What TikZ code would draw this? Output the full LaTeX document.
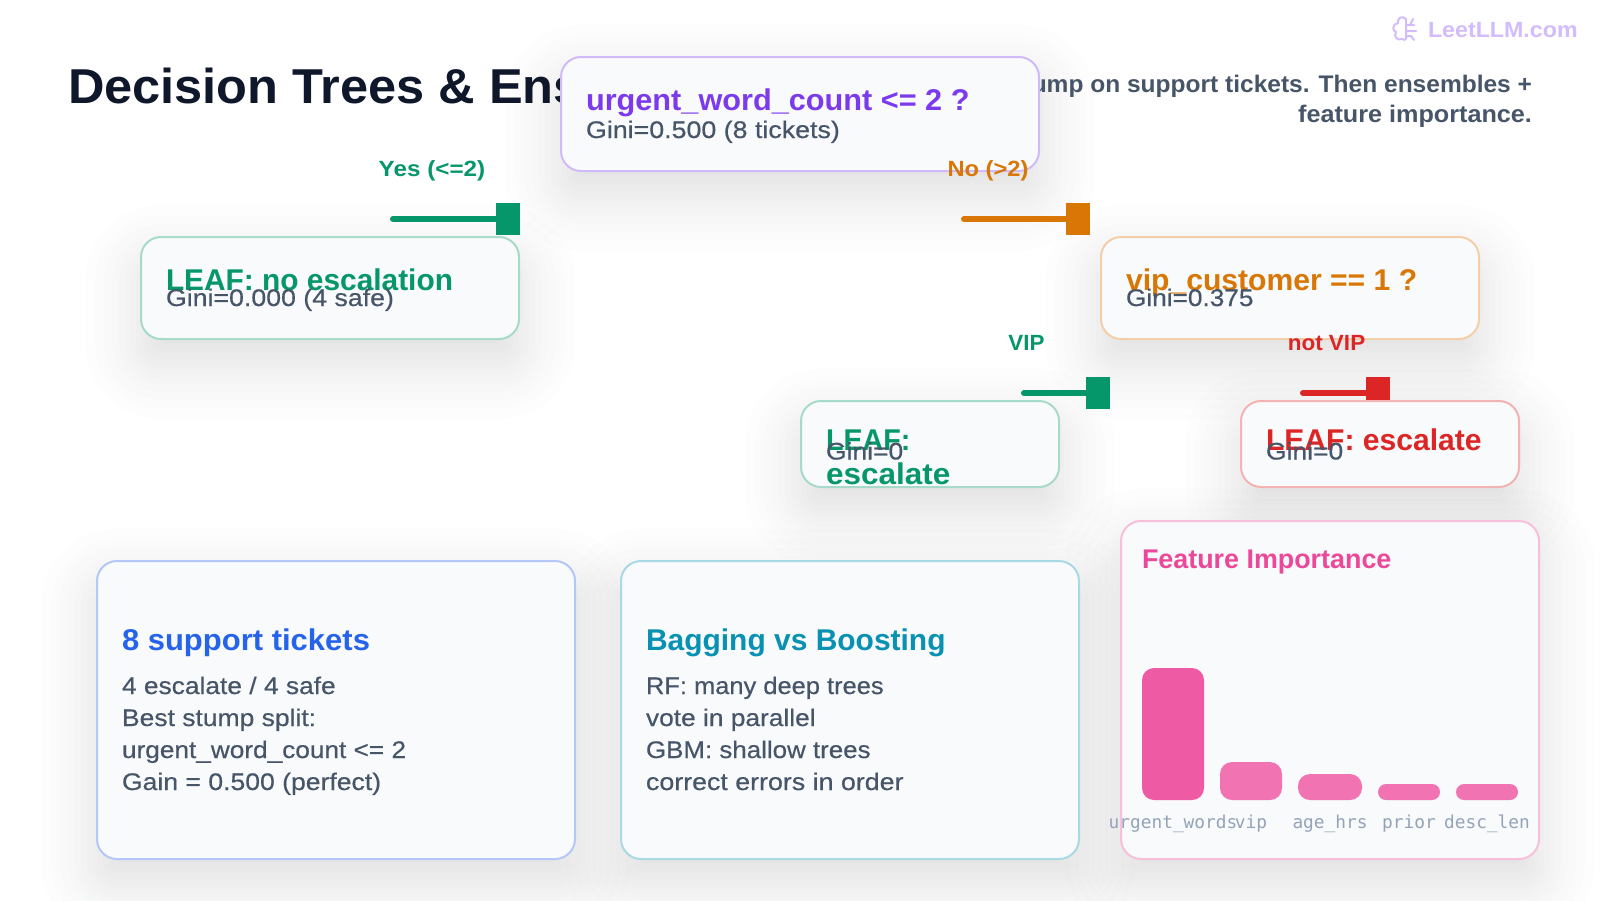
\documentclass[tikz,border=0pt]{standalone}
\usepackage{graphicx}
\usepackage{fontspec}
\usetikzlibrary{arrows.meta}
\setmainfont{Liberation Sans}
\newfontface\hb{Liberation Sans Bold}[FakeStretch=1.05]
\newfontface\hm{Liberation Sans}[FakeStretch=1.05,FakeBold=0.5]
\newfontface\mn{DejaVu Sans Mono}
\newcommand\sx[2]{\scalebox{#1}[1]{#2}}
\definecolor{cink}{HTML}{0F172A}
\definecolor{cslate}{HTML}{475569}
\definecolor{cgreen}{HTML}{059669}
\definecolor{corange}{HTML}{D97706}
\definecolor{cred}{HTML}{DC2626}
\definecolor{cblue}{HTML}{2563EB}
\definecolor{cteal}{HTML}{0891B2}
\definecolor{cpink}{HTML}{EC4899}
\definecolor{cpurple}{HTML}{7C3AED}
\definecolor{cfill}{HTML}{F8FAFC}
\definecolor{cmark}{HTML}{D3BCFC}
\definecolor{cbarA}{HTML}{EF5AA5}
\definecolor{cbarB}{HTML}{F273B1}
\definecolor{clabel}{HTML}{94A3B8}
\newcommand\softshadow[4]{%
  \foreach \dd in {-40,-32,-26,-20,-15,-10,-5,0,5,10,16,22,29,37,46,56}{%
    \pgfmathsetmacro\rr{max(4,20+\dd)}%
    \fill[cink,opacity=0.007,rounded corners=\rr pt]
      (#1-\dd,#2+24-\dd) rectangle (#3+\dd,#4+24+\dd);
  }%
}
\tikzset{
  x=1pt,y=-1pt,
  cardbox/.style={rounded corners=20pt,line width=2pt,fill=cfill,inner sep=0pt,outer sep=0pt},
  txt/.style={anchor=base west,inner sep=0pt,outer sep=0pt},
  rtxt/.style={anchor=base east,inner sep=0pt,outer sep=0pt},
  ctxt/.style={anchor=base,inner sep=0pt,outer sep=0pt},
  titlefont/.style={font=\hb\fontsize{30}{36}\selectfont},
  subfont/.style={font=\hm\fontsize{24}{30}\selectfont,text=cslate},
  bodyfont/.style={font=\hm\fontsize{24}{30}\selectfont,text=cslate},
  edgefont/.style={font=\hb\fontsize{22}{26}\selectfont},
  monofont/.style={font=\mn\fontsize{17.8}{22}\selectfont,text=clabel},
  stub/.style={line width=6pt,line cap=round,-{Square[length=24pt,width=32pt]}},
  bar/.style={inner sep=0pt,outer sep=0pt,anchor=south west,minimum width=62pt},
}
\begin{document}
\begin{tikzpicture}
\useasboundingbox (0,0) rectangle (1600,900);
\fill[white] (0,0) rectangle (1600,900);
% soft shadows
\softshadow{561}{57}{1039}{171}
\softshadow{141}{237}{519}{339}
\softshadow{1101}{237}{1479}{339}
\softshadow{801}{401}{1059}{487}
\softshadow{1241}{401}{1519}{487}
\softshadow{97}{561}{575}{859}
\softshadow{621}{561}{1079}{859}
\softshadow{1121}{521}{1539}{859}
% watermark
\draw[cmark,line width=2pt,line cap=round,line join=round]
  (1406,19) .. controls (1402,15) and (1397,18) .. (1398,23)
  .. controls (1392,24) and (1392,31) .. (1396,32)
  .. controls (1393,37) and (1398,41) .. (1402,39)
  .. controls (1405,41) and (1407,39) .. (1406,36)
  (1406,19) -- (1406,36)
  (1406,25) -- (1414,25) (1410,25) -- (1413,19)
  (1406,31) -- (1416,31)
  (1406,36) -- (1411,36) -- (1414,40);
\node[txt,font=\hb\fontsize{22}{26}\selectfont,text=cmark] (mark) at (1428,37) {\sx{1.005}{LeetLLM.com}};
% header
\node[txt,font=\hb\fontsize{49}{56}\selectfont,text=cink] (title) at (68,103) {\sx{0.982}{Decision Trees \& Ensembles}};
\node[rtxt,font=\hb\fontsize{24}{30}\selectfont,text=cslate] (subA) at (1532,92) {\sx{0.973}{stump on support tickets. Then ensembles +}};
\node[rtxt,font=\hb\fontsize{24}{30}\selectfont,text=cslate] (subB) at (1532,122) {feature importance.};
% connectors
\coordinate (yA) at (393,219); \coordinate (yB) at (520,219);
\coordinate (nA) at (964,219); \coordinate (nB) at (1090,219);
\coordinate (vA) at (1024,393); \coordinate (vB) at (1110,393);
\coordinate (wA) at (1303,393); \coordinate (wB) at (1390,393);
\draw[stub,cgreen] (yA) -- (yB);
\draw[stub,corange] (nA) -- (nB);
\draw[stub,cgreen] (vA) -- (vB);
\draw[stub,cred] (wA) -- (wB);
% tree nodes
\node[cardbox,draw=cpurple!35!white,minimum width=478pt,minimum height=114pt] (root) at (800,114) {};
\node[cardbox,draw=cgreen!35!white,minimum width=378pt,minimum height=102pt] (leafno) at (330,288) {};
\node[cardbox,draw=corange!35!white,minimum width=378pt,minimum height=102pt] (vipq) at (1290,288) {};
\node[cardbox,draw=cgreen!35!white,minimum width=258pt,minimum height=86pt] (leafvip) at (930,444) {};
\node[cardbox,draw=cred!35!white,minimum width=278pt,minimum height=86pt] (leafesc) at (1380,444) {};
% info cards
\node[cardbox,draw=cblue!35!white,minimum width=478pt,minimum height=298pt] (cardA) at (336,710) {};
\node[cardbox,draw=cteal!35!white,minimum width=458pt,minimum height=298pt] (cardB) at (850,710) {};
\node[cardbox,draw=cpink!35!white,minimum width=418pt,minimum height=338pt] (cardC) at (1330,690) {};
% tree node text
\node[txt,titlefont,text=cpurple] (rootT) at (586,110) {\sx{0.974}{urgent\_word\_count <= 2 ?}};
\node[txt,subfont] (rootS) at (586,138) {\sx{1.063}{Gini=0.500 (8 tickets)}};
\node[txt,titlefont,text=cgreen] (noT) at (166,290) {\sx{0.948}{LEAF: no escalation}};
\node[txt,subfont] (noS) at (166,306) {\sx{1.06}{Gini=0.000 (4 safe)}};
\node[txt,titlefont,text=corange] (vipT) at (1126,290) {\sx{0.956}{vip\_customer == 1 ?}};
\node[txt,subfont] (vipS) at (1126,306) {\sx{1.04}{Gini=0.375}};
\node[txt,titlefont,text=cgreen] (lvA) at (826,450) {\sx{0.91}{LEAF:}};
\node[txt,titlefont,text=cgreen] (lvB) at (826,484) {\sx{1.0}{escalate}};
\node[txt,subfont] (lvS) at (826,459.5) {\sx{1.05}{Gini=0}};
\node[txt,titlefont,text=cred] (leT) at (1266,450) {\sx{0.955}{LEAF: escalate}};
\node[txt,subfont] (leS) at (1266,459.5) {\sx{1.05}{Gini=0}};
% edge labels
\node[ctxt,edgefont,text=cgreen] (yL) at (432,176) {\sx{1.05}{Yes (<=2)}};
\node[ctxt,edgefont,text=corange] (nL) at (988,176) {\sx{1.026}{No (>2)}};
\node[ctxt,edgefont,text=cgreen] (vL) at (1026.5,350) {\sx{0.97}{VIP}};
\node[ctxt,edgefont,text=cred] (wL) at (1326.5,350) {\sx{0.974}{not VIP}};
% card A
\node[txt,titlefont,text=cblue] (aT) at (122,650) {\sx{0.984}{8 support tickets}};
\node[txt,bodyfont] (a1) at (122,694) {\sx{1.045}{4 escalate / 4 safe}};
\node[txt,bodyfont] (a2) at (122,726) {\sx{1.05}{Best stump split:}};
\node[txt,bodyfont] (a3) at (122,758) {\sx{1.04}{urgent\_word\_count <= 2}};
\node[txt,bodyfont] (a4) at (122,790) {\sx{1.054}{Gain = 0.500 (perfect)}};
% card B
\node[txt,titlefont,text=cteal] (bT) at (646,650) {\sx{0.951}{Bagging vs Boosting}};
\node[txt,bodyfont] (b1) at (646,694) {\sx{1.01}{RF: many deep trees}};
\node[txt,bodyfont] (b2) at (646,726) {\sx{1.044}{vote in parallel}};
\node[txt,bodyfont] (b3) at (646,758) {\sx{1.028}{GBM: shallow trees}};
\node[txt,bodyfont] (b4) at (646,790) {\sx{1.063}{correct errors in order}};
% card C
\node[txt,font=\hb\fontsize{27}{32}\selectfont,text=cpink] (cT) at (1142,568.5) {\sx{0.948}{Feature Importance}};
\node[bar,fill=cbarA,minimum height=132pt,rounded corners=12pt] (barA) at (1142,800) {};
\node[bar,fill=cbarB,minimum height=38pt,rounded corners=12pt] (barB) at (1220,800) {};
\node[bar,fill=cbarB,minimum height=26pt,minimum width=64pt,rounded corners=12pt] (barC) at (1298,800) {};
\node[bar,fill=cbarB,minimum height=16pt,rounded corners=8pt] (barD) at (1378,800) {};
\node[bar,fill=cbarB,minimum height=16pt,rounded corners=8pt] (barE) at (1456,800) {};
\node[ctxt,monofont] (lA) at (1173,828) {urgent\_words};
\node[ctxt,monofont] (lB) at (1251,828) {vip};
\node[ctxt,monofont] (lC) at (1330,828) {age\_hrs};
\node[ctxt,monofont] (lD) at (1409,828) {prior};
\node[ctxt,monofont] (lE) at (1487,828) {desc\_len};
\end{tikzpicture}
\end{document}
